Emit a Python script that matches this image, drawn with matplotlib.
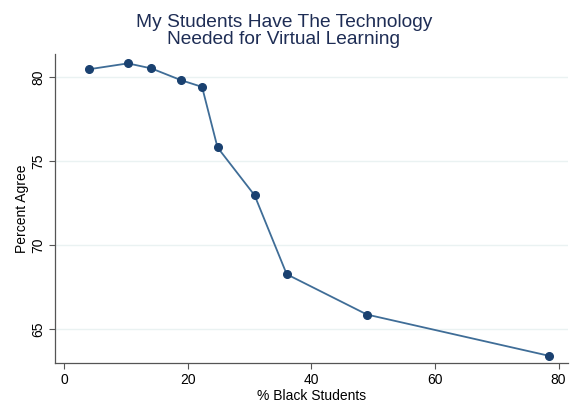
import matplotlib
matplotlib.use("Agg")
import matplotlib.pyplot as plt

pct_black = [4.0, 10.3, 14.1, 18.9, 22.3, 24.8, 30.8, 36.0, 49.0, 78.4]
pct_agree = [80.45, 80.8, 80.5, 79.8, 79.4, 75.8, 72.95, 68.25, 65.85, 63.4]
x_ticks = [0, 20, 40, 60, 80]
y_ticks = [65, 70, 75, 80]

plt.rcParams["font.family"] = ["Liberation Sans", "DejaVu Sans"]

fig = plt.figure(figsize=(5.73, 4.04), dpi=100)
ax = fig.add_axes([0.096, 0.102, 0.895, 0.764])

ax.plot(pct_black, pct_agree, color="#3f6d97", lw=1.3, zorder=3)
ax.plot(pct_black, pct_agree, "o", color="#1a4170", ms=5.5, zorder=4)

ax.set_xlim(-1.5, 81.5)
ax.set_ylim(62.98, 81.35)
ax.set_xticks(x_ticks)
ax.set_yticks(y_ticks)
ax.set_yticklabels([str(v) for v in y_ticks], rotation=90, va="center")
ax.tick_params(labelsize=10, length=4, width=0.8, color="#555555", pad=3)
ax.grid(axis="y", color="#eaf2f2", lw=1.0, zorder=0)

for side in ["top", "right"]:
    ax.spines[side].set_visible(False)
for side in ["left", "bottom"]:
    ax.spines[side].set_color("#555555")
    ax.spines[side].set_linewidth(0.9)

ax.set_xlabel("% Black Students", fontsize=10, labelpad=2)
ax.set_ylabel("Percent Agree", fontsize=10, labelpad=2)
# title is centred on the figure, not on the plot area
ax.set_title("My Students Have The Technology\nNeeded for Virtual Learning",
             fontsize=13.8, color="#1e2d55", linespacing=1.05, pad=7, x=0.446)

fig.savefig("out.png", dpi=100)
